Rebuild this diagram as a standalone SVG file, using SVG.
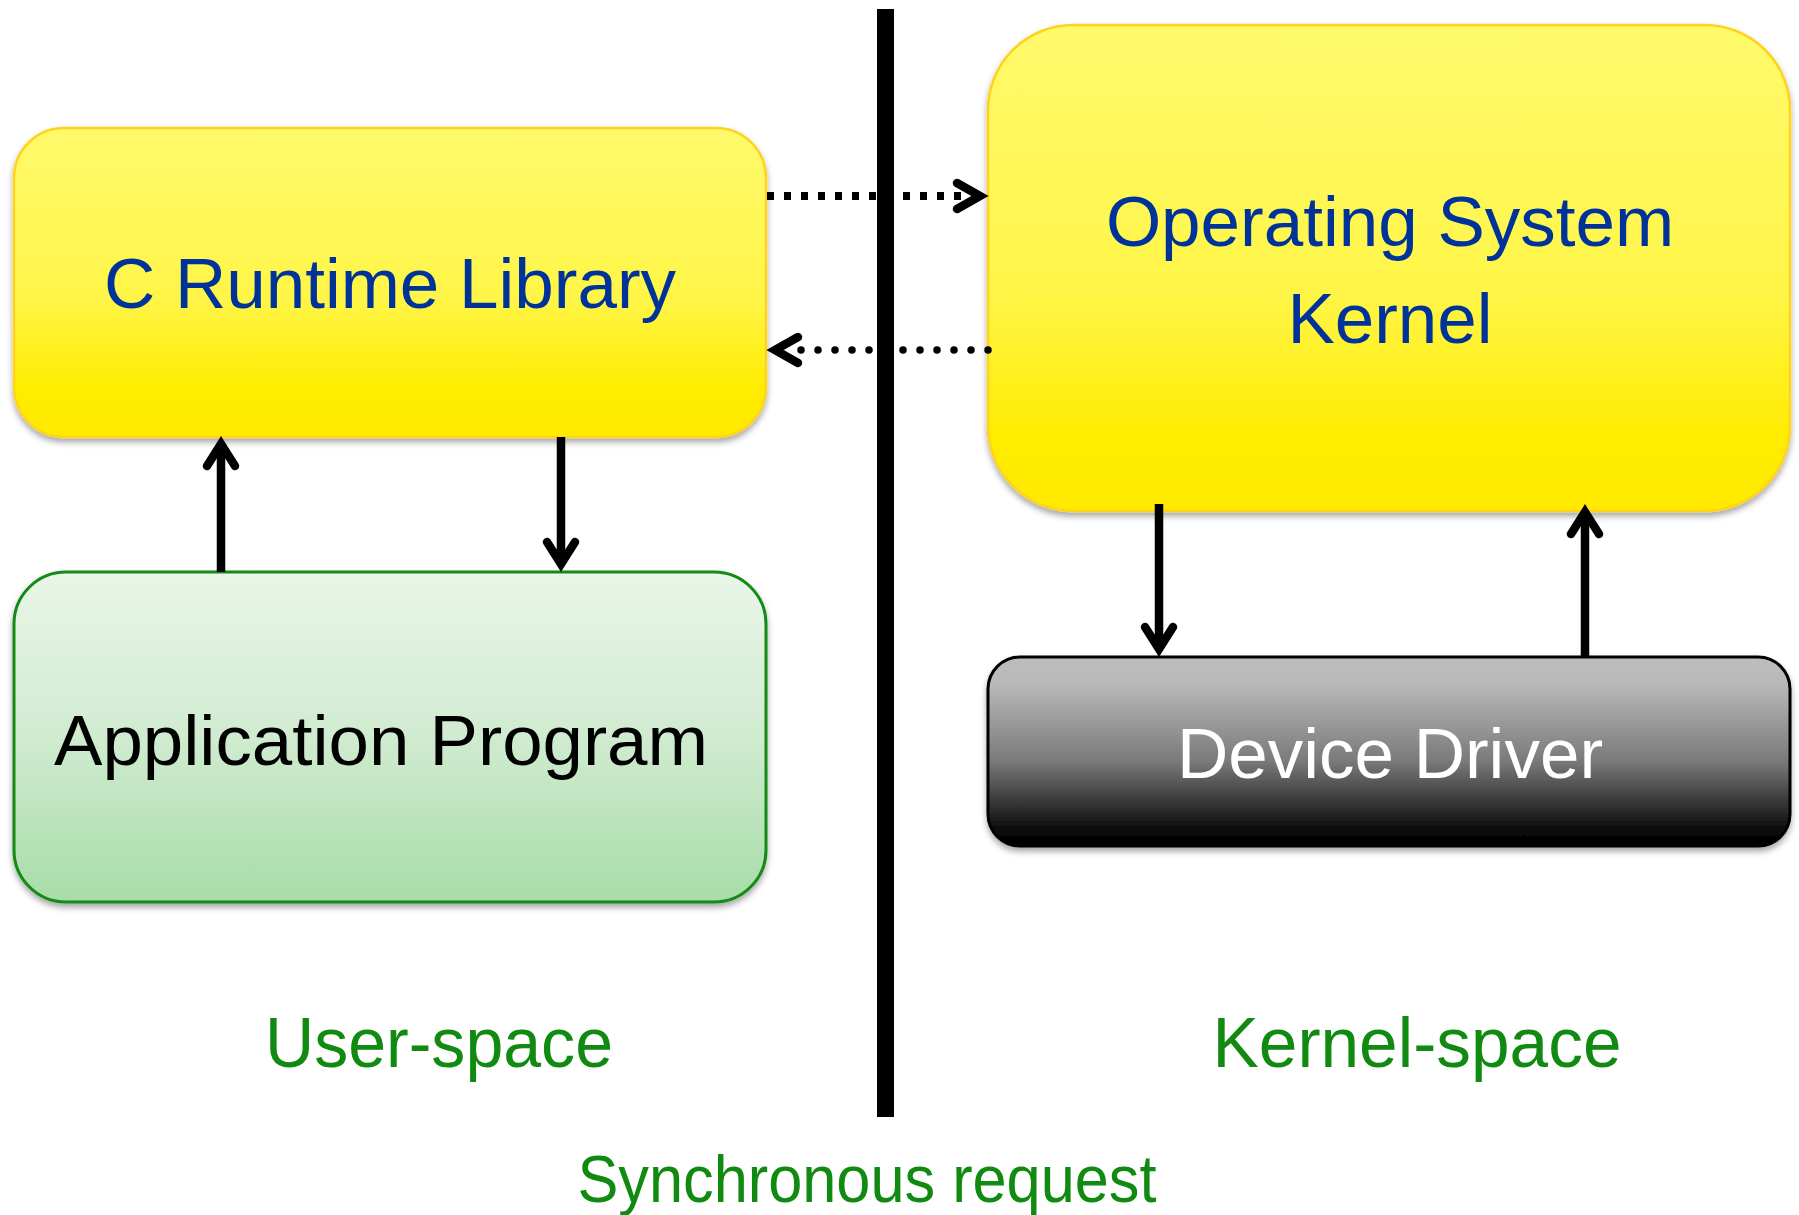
<svg xmlns="http://www.w3.org/2000/svg" width="1799" height="1215" viewBox="0 0 1799 1215">
  <defs>
    <linearGradient id="gYellow" x1="0" y1="0" x2="0" y2="1">
      <stop offset="0" stop-color="#FFFA6C"/>
      <stop offset="0.55" stop-color="#FFF548"/>
      <stop offset="0.85" stop-color="#FFEC00"/>
      <stop offset="1" stop-color="#FFEA00"/>
    </linearGradient>
    <linearGradient id="gGreen" x1="0" y1="0" x2="0" y2="1">
      <stop offset="0" stop-color="#E9F6E9"/>
      <stop offset="0.5" stop-color="#D0EBD0"/>
      <stop offset="1" stop-color="#A8DCA8"/>
    </linearGradient>
    <linearGradient id="gGray" x1="0" y1="0" x2="0" y2="1">
      <stop offset="0" stop-color="#BDBDBD"/>
      <stop offset="0.15" stop-color="#B8B8B8"/>
      <stop offset="0.55" stop-color="#7A7A7A"/>
      <stop offset="0.92" stop-color="#0A0A0A"/>
      <stop offset="1" stop-color="#000000"/>
    </linearGradient>
    <filter id="shadow" x="-5%" y="-5%" width="110%" height="115%">
      <feDropShadow dx="0" dy="4" stdDeviation="3" flood-color="#000" flood-opacity="0.35"/>
    </filter>
  </defs>
  <style>
    .box { filter: url(#shadow); }
    .yellow { fill: url(#gYellow); stroke: #FFD21F; stroke-width: 2.5; }
    .green { fill: url(#gGreen); stroke: #128A12; stroke-width: 3; }
    .gray { fill: url(#gGray); stroke: #000; stroke-width: 3; }
    .lbl { font-family: "Liberation Sans", Arial, sans-serif; font-size: 71px; text-anchor: middle; }
    .blue { fill: #003399; }
    .area { font-family: "Liberation Sans", Arial, sans-serif; fill: #108A10; text-anchor: middle; }
    .shaft { stroke: #000; stroke-width: 8.5; fill: none; }
    .head { stroke: #000; stroke-width: 8.5; fill: none; stroke-linecap: round; stroke-linejoin: miter; stroke-miterlimit: 10; }
    .sq { stroke: #000; stroke-width: 8; fill: none; stroke-dasharray: 7 10; }
    .dot { stroke: #000; stroke-width: 7.5; fill: none; stroke-dasharray: 0 17; stroke-linecap: round; }
  </style>

  <rect width="1799" height="1215" fill="#FFFFFF"/>

  <!-- nodes -->
  <g id="c-runtime">
    <rect class="box yellow" x="14" y="128" width="752" height="309" rx="50" ry="50"/>
    <text class="lbl blue" x="390" y="308">C Runtime Library</text>
  </g>

  <g id="os-kernel">
    <rect class="box yellow" x="988" y="25" width="802" height="486" rx="85" ry="85"/>
    <text class="lbl blue" x="1390" y="246">Operating System</text>
    <text class="lbl blue" x="1390" y="343">Kernel</text>
  </g>

  <g id="application">
    <rect class="box green" x="14" y="572" width="752" height="330" rx="52" ry="52"/>
    <text class="lbl" x="381" y="765" fill="#000" textLength="654" lengthAdjust="spacingAndGlyphs">Application Program</text>
  </g>

  <g id="device-driver">
    <rect class="box gray" x="988" y="657" width="802" height="189" rx="32" ry="32"/>
    <text class="lbl" x="1390" y="778" fill="#FFFFFF">Device Driver</text>
  </g>

  <!-- connectors -->
  <g id="connectors">
    <!-- application -> runtime -->
    <line class="shaft" x1="221" y1="572" x2="221" y2="446"/>
    <polyline class="head" points="207,466 221,444 235,466"/>
    <!-- runtime -> application -->
    <line class="shaft" x1="561" y1="437" x2="561" y2="562"/>
    <polyline class="head" points="547,542 561,564 575,542"/>
    <!-- kernel -> device driver -->
    <line class="shaft" x1="1159" y1="504" x2="1159" y2="647"/>
    <polyline class="head" points="1145,627 1159,649 1173,627"/>
    <!-- device driver -> kernel -->
    <line class="shaft" x1="1585" y1="657" x2="1585" y2="514"/>
    <polyline class="head" points="1571,534 1585,512 1599,534"/>
    <!-- request: runtime -> kernel -->
    <line class="sq" x1="767" y1="196" x2="976" y2="196"/>
    <polyline class="head" points="957,183 980,196 957,209"/>
    <!-- reply: kernel -> runtime -->
    <line class="dot" x1="988" y1="350" x2="800" y2="350"/>
    <polyline class="head" points="798,337 775,350 798,363"/>
  </g>

  <!-- user / kernel boundary -->
  <rect id="boundary" x="877" y="9" width="17" height="1108" fill="#000"/>

  <!-- area captions -->
  <text class="area" x="439" y="1067" font-size="70" textLength="348" lengthAdjust="spacingAndGlyphs">User-space</text>
  <text class="area" x="1417" y="1067" font-size="70" textLength="409" lengthAdjust="spacingAndGlyphs">Kernel-space</text>
  <text class="area" x="867" y="1202" font-size="66" textLength="579" lengthAdjust="spacingAndGlyphs">Synchronous request</text>
</svg>
